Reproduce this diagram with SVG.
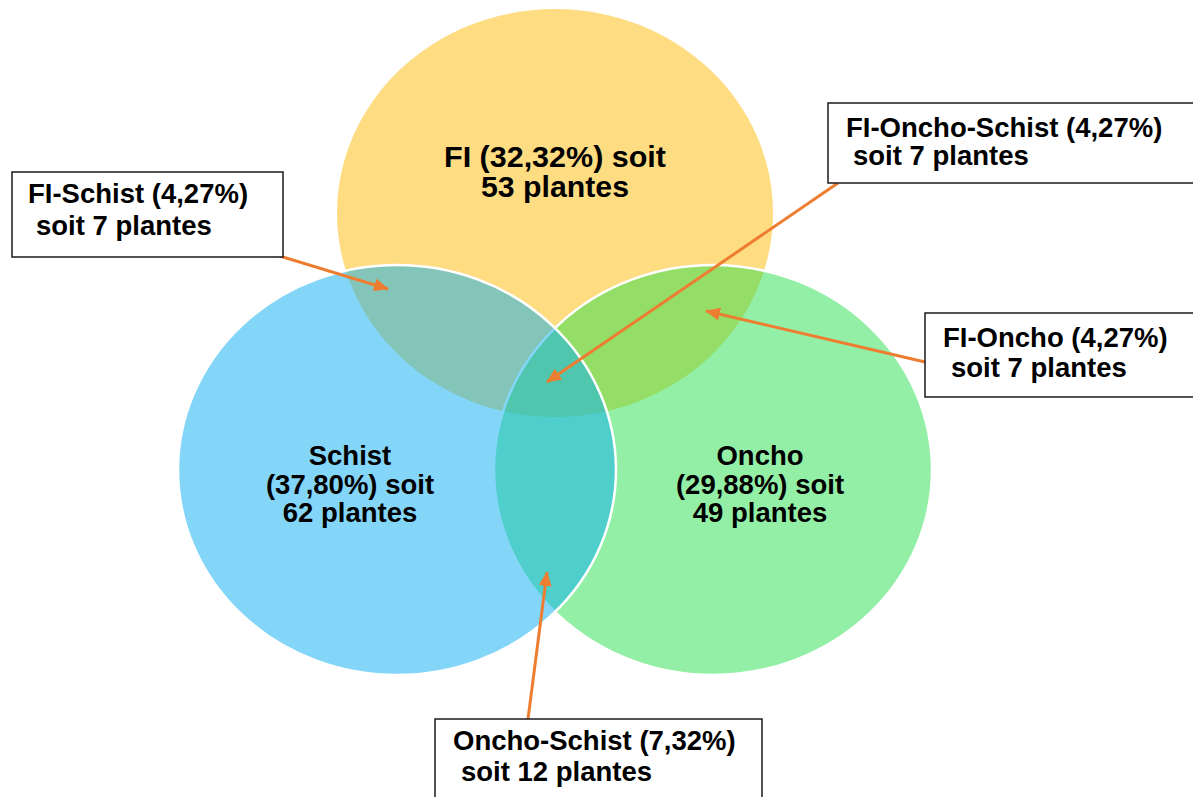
<svg xmlns="http://www.w3.org/2000/svg" width="1193" height="797" viewBox="0 0 1193 797">
<style>
  .lbl { font-family: "Liberation Sans", Arial, sans-serif; font-weight: bold; fill: #000; }
  .ctr { text-anchor: middle; }
  .box { fill: #fff; stroke: #1a1a1a; stroke-width: 1.5; }
  .conn { stroke: #ED7D31; stroke-width: 3; fill: none; marker-end: url(#ah); }
</style>
<defs>
  <marker id="ah" markerUnits="userSpaceOnUse" markerWidth="16" markerHeight="14" refX="14" refY="6.5" orient="auto">
    <path d="M0,0 L15,6.5 L0,13 Z" fill="#ED7D31"/>
  </marker>
</defs>
<rect width="1193" height="797" fill="#fff"/>
<g id="node-fl">
  <ellipse cx="555" cy="213" rx="218" ry="204" fill="#FEDC82"/>
</g>
<g id="node-oncho">
  <ellipse cx="713" cy="470" rx="219" ry="205" fill="rgb(41,223,77)" fill-opacity="0.5" stroke="#fff" stroke-width="2.5"/>
</g>
<g id="node-schist">
  <ellipse cx="397" cy="470" rx="219" ry="205" fill="rgb(9,173,241)" fill-opacity="0.5" stroke="#fff" stroke-width="2.5"/>
</g>
<g id="labels-circles">
  <text class="lbl ctr" x="555" y="167" font-size="29" textLength="222" lengthAdjust="spacingAndGlyphs">FI (32,32%) soit</text>
  <text class="lbl ctr" x="555" y="197" font-size="29" textLength="148" lengthAdjust="spacingAndGlyphs">53 plantes</text>
  <text class="lbl ctr" x="350" y="465" font-size="27.5">Schist</text>
  <text class="lbl ctr" x="350" y="494" font-size="27.5">(37,80%) soit</text>
  <text class="lbl ctr" x="350" y="522" font-size="27.5">62 plantes</text>
  <text class="lbl ctr" x="760" y="465" font-size="27.5">Oncho</text>
  <text class="lbl ctr" x="760" y="494" font-size="27.5">(29,88%) soit</text>
  <text class="lbl ctr" x="760" y="522" font-size="27.5">49 plantes</text>
</g>
<g id="connectors">
  <line class="conn" x1="270" y1="253" x2="388" y2="289"/>
  <line class="conn" x1="838" y1="183" x2="547" y2="382"/>
  <line class="conn" x1="925" y1="362" x2="706" y2="311"/>
  <line class="conn" x1="528" y1="719" x2="547" y2="572"/>
</g>
<g id="box-fl-schist">
  <rect class="box" x="12" y="172" width="271" height="85"/>
  <text class="lbl" x="28" y="203" font-size="27.5">FI-Schist (4,27%)</text>
  <text class="lbl" x="36" y="235" font-size="27.5">soit 7 plantes</text>
</g>
<g id="box-fl-oncho-schist">
  <rect class="box" x="828" y="103" width="380" height="80"/>
  <text class="lbl" x="846" y="137" font-size="27.5">FI-Oncho-Schist (4,27%)</text>
  <text class="lbl" x="853" y="165" font-size="27.5">soit 7 plantes</text>
</g>
<g id="box-fl-oncho">
  <rect class="box" x="925" y="313" width="280" height="84"/>
  <text class="lbl" x="943" y="347" font-size="27.5">FI-Oncho (4,27%)</text>
  <text class="lbl" x="951" y="377" font-size="27.5">soit 7 plantes</text>
</g>
<g id="box-oncho-schist">
  <rect class="box" x="435" y="719" width="327" height="90"/>
  <text class="lbl" x="453" y="750" font-size="27.5">Oncho-Schist (7,32%)</text>
  <text class="lbl" x="461" y="781" font-size="27.5">soit 12 plantes</text>
</g>
</svg>
